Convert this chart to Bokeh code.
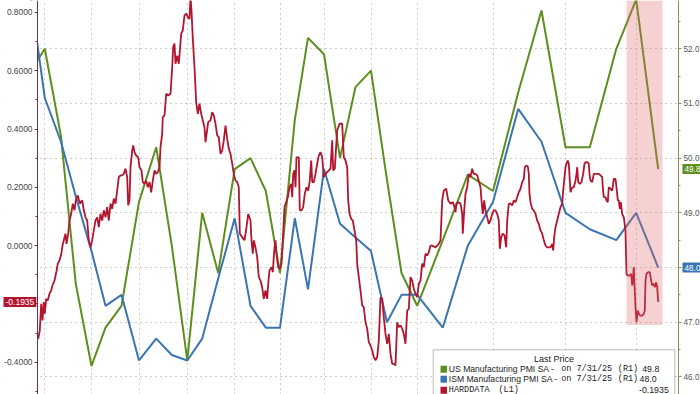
from bokeh.plotting import figure
from bokeh.models import (Range1d, LinearAxis, FixedTicker, PrintfTickFormatter,
                          Label, BoxAnnotation, Grid)
from bokeh.embed import file_html
from bokeh.resources import INLINE

# ---------------- data ----------------
months = ["Aug 22", "Sep 22", "Oct 22", "Nov 22", "Dec 22",
          "Jan 23", "Feb 23", "Mar 23", "Apr 23", "May 23", "Jun 23",
          "Jul 23", "Aug 23", "Sep 23", "Oct 23", "Nov 23", "Dec 23",
          "Jan 24", "Feb 24", "Mar 24", "Apr 24", "May 24", "Jun 24",
          "Jul 24", "Aug 24", "Sep 24", "Oct 24", "Nov 24", "Dec 24",
          "Jan 25", "Feb 25", "Mar 25", "Apr 25", "May 25", "Jun 25", "Jul 25"]
# position of each month-end on the chart's (session based) time axis
month_pos = [-10.0, 7.3, 23.5, 38.3, 54.0,
             68.0, 84.0, 101.5, 118.7, 134.3, 149.8,
             164.7, 180.7, 197.2, 213.0, 228.3, 242.5,
             257.3, 270.5, 286.5, 302.5, 318.0, 333.5,
             349.5, 364.0, 379.7, 405.3, 430.3, 455.5,
             480.7, 504.0, 528.0, 552.3, 578.8, 598.7, 620.7]

us_pmi = [51.5, 52.0, 50.4, 47.7, 46.2,
          46.9, 47.3, 49.2, 50.2, 48.4, 46.3,
          49.0, 47.9, 49.8, 50.0, 49.4, 47.9,
          50.7, 52.2, 51.9, 50.0, 51.3, 51.6,
          49.6, 47.9, 47.3, 48.5, 49.7, 49.4,
          51.2, 52.7, 50.2, 50.2, 52.0, 52.9, 49.8]

ism_pmi = [53.4, 51.1, 50.3, 49.3, 48.3,
           47.3, 47.5, 46.3, 46.7, 46.4, 46.3,
           46.7, 47.8, 48.9, 47.3, 46.9, 46.9,
           48.9, 47.6, 49.8, 48.8, 48.55, 48.3,
           47.0, 47.5, 47.5, 46.9, 48.4, 49.2,
           50.9, 50.3, 49.0, 48.7, 48.5, 49.0, 48.0]

# HARDDATA (daily), (time position, value)
hard_points = [
    (0.7, -0.320), (2.3, -0.291), (3.7, -0.200), (5.0, -0.257), (6.3, -0.194), (7.3, -0.234),
    (8.7, -0.183), (10.3, -0.188), (12.0, -0.165), (13.7, -0.154), (15.0, -0.137), (17.0, -0.120),
    (19.0, -0.088), (20.3, -0.062), (22.0, -0.051), (23.7, -0.031), (25.0, 0.000), (26.3, 0.018),
    (28.0, 0.041), (29.0, 0.006), (30.7, 0.041), (32.0, 0.086), (33.7, 0.109), (35.3, 0.144),
    (37.0, 0.121), (38.3, 0.155), (40.3, 0.172), (42.3, 0.144), (44.7, 0.155), (46.3, 0.121),
    (48.0, 0.097), (49.7, 0.086), (51.3, 0.018), (53.0, -0.006), (54.7, 0.018), (56.3, 0.052),
    (58.0, 0.086), (59.7, 0.097), (61.3, 0.063), (63.0, 0.109), (64.7, 0.086), (66.3, 0.121),
    (68.0, 0.097), (69.7, 0.132), (71.3, 0.086), (73.0, 0.144), (74.7, 0.126), (76.3, 0.161),
    (78.0, 0.144), (79.7, 0.189), (81.3, 0.235), (83.0, 0.241),
    (84.7, 0.241), (86.3, 0.246), (88.0, 0.264), (89.7, 0.235), (90.7, 0.138), (92.0, 0.155),
    (93.0, 0.269), (94.7, 0.326), (95.7, 0.344), (97.0, 0.321), (98.7, 0.309), (100.7, 0.303),
    (102.0, 0.269), (104.0, 0.258), (105.3, 0.218), (107.0, 0.212), (108.7, 0.223), (110.3, 0.200),
    (112.0, 0.218), (113.7, 0.183), (115.3, 0.223), (117.0, 0.258), (118.7, 0.246), (120.3, 0.252),
    (122.0, 0.269), (123.0, 0.338), (124.7, 0.384), (125.3, 0.441), (127.0, 0.447), (128.7, 0.521),
    (130.7, 0.515), (133.0, 0.521), (134.7, 0.612), (135.7, 0.681), (137.0, 0.693), (138.0, 0.624),
    (139.7, 0.652), (141.3, 0.624), (143.7, 0.727), (145.3, 0.738), (147.0, 0.790), (148.7, 0.796),
    (150.3, 0.784), (152.0, 0.778), (153.0, 0.852), (154.0, 0.807), (155.3, 0.710), (157.0, 0.612),
    (158.7, 0.492), (160.3, 0.452), (162.0, 0.487), (163.7, 0.452), (165.3, 0.429), (167.0, 0.406),
    (168.0, 0.355), (170.7, 0.424), (173.0, 0.429), (174.7, 0.458), (176.3, 0.447), (178.0, 0.418),
    (179.7, 0.378), (181.3, 0.372), (183.0, 0.315), (184.7, 0.326), (186.3, 0.361), (188.0, 0.412),
    (189.7, 0.367), (191.3, 0.332), (193.0, 0.315), (194.7, 0.281), (196.3, 0.246), (198.0, 0.223),
    (199.7, 0.218), (201.3, 0.200), (202.3, 0.041), (204.7, 0.029), (207.0, 0.018), (209.0, 0.063),
    (210.7, 0.109), (213.0, 0.086), (214.0, 0.018), (215.3, -0.028), (216.3, 0.018), (218.0, -0.006),
    (219.7, -0.040), (221.3, -0.108), (223.0, -0.120), (224.7, -0.143), (226.3, -0.183), (228.0, -0.154),
    (229.7, -0.183), (230.7, -0.131), (232.0, -0.085), (234.0, -0.074), (235.3, -0.091), (236.7, -0.017),
    (238.0, 0.018), (239.0, -0.028), (240.7, -0.074), (242.3, -0.080), (244.0, -0.062), (245.3, 0.018),
    (247.0, 0.132), (248.7, 0.149), (250.3, 0.166), (252.0, 0.200), (253.7, 0.212), (254.7, 0.166),
    (255.7, 0.246), (257.0, 0.258), (258.0, 0.200), (259.0, 0.303), (261.3, 0.303), (262.3, 0.121),
    (264.0, 0.121), (265.7, 0.132), (267.3, 0.178), (269.0, 0.200), (270.7, 0.189), (272.3, 0.223),
    (273.7, 0.292), (274.7, 0.218), (276.3, 0.218), (278.0, 0.246), (279.7, 0.281), (281.3, 0.309),
    (283.0, 0.321), (284.7, 0.303), (286.3, 0.235), (288.0, 0.246), (289.7, 0.252), (291.3, 0.258),
    (293.0, 0.264), (294.7, 0.361), (295.7, 0.258), (297.3, 0.264), (298.7, 0.344), (299.7, 0.395),
    (302.0, 0.418), (304.7, 0.418), (306.3, 0.303), (308.0, 0.292), (309.7, 0.269), (310.7, 0.155),
    (312.0, 0.109), (313.7, 0.092), (315.3, 0.086), (317.0, 0.052), (318.7, 0.018),
    (319.7, -0.062), (321.3, -0.108), (323.0, -0.154), (324.7, -0.206), (326.3, -0.211), (328.0, -0.263),
    (329.7, -0.285), (331.3, -0.331), (333.0, -0.343), (334.7, -0.360), (336.3, -0.383), (338.0, -0.394),
    (339.7, -0.383), (341.3, -0.326), (343.0, -0.177), (344.7, -0.183), (346.3, -0.246), (348.0, -0.303),
    (349.7, -0.337), (351.3, -0.303), (353.0, -0.371), (354.7, -0.406), (356.3, -0.406), (358.0, -0.411),
    (359.7, -0.263), (361.3, -0.280), (363.0, -0.274), (364.7, -0.285), (366.3, -0.303), (368.0, -0.337),
    (369.7, -0.223), (371.3, -0.217), (373.0, -0.108), (374.7, -0.120), (376.3, -0.148), (378.0, -0.165),
    (379.7, -0.177), (381.3, -0.131), (383.0, -0.120), (384.7, -0.062), (386.3, -0.074), (388.0, -0.028),
    (389.7, -0.034), (391.3, -0.023), (393.0, 0.000), (394.7, 0.000), (398.0, -0.006), (401.3, 0.006),
    (403.0, 0.018), (404.7, 0.155), (406.3, 0.189), (408.7, 0.195), (410.7, 0.155), (413.0, 0.144),
    (415.3, 0.149), (417.0, 0.132), (418.0, 0.115), (419.0, 0.144), (420.7, 0.149), (423.0, 0.144),
    (424.7, 0.109), (425.3, 0.041), (426.7, 0.121), (428.0, 0.178), (429.7, 0.200), (431.3, 0.246),
    (433.0, 0.235), (434.7, 0.264), (436.3, 0.246), (438.0, 0.246), (439.7, 0.241), (443.0, 0.200),
    (444.0, 0.155), (445.3, 0.109), (446.7, 0.155), (448.0, 0.121), (449.7, 0.097), (451.3, 0.075),
    (453.0, 0.086), (454.7, 0.109), (456.3, 0.121), (458.0, 0.121), (459.7, 0.109), (461.3, 0.086),
    (462.3, -0.011), (463.7, 0.029), (465.3, 0.041), (467.0, 0.035), (468.7, -0.006), (469.7, 0.086),
    (471.3, 0.144), (473.0, 0.144), (474.7, 0.138), (476.3, 0.155), (478.0, 0.149),
    (479.7, 0.166), (481.3, 0.183), (483.0, 0.195), (484.7, 0.218), (486.3, 0.229), (487.3, 0.269),
    (488.7, 0.275), (490.3, 0.272), (491.3, 0.246), (492.0, 0.178), (493.0, 0.149), (494.7, 0.126),
    (496.3, 0.121), (498.0, 0.109), (499.7, 0.086), (501.3, 0.075), (503.0, 0.052), (504.7, 0.041),
    (506.3, 0.018), (508.0, 0.000), (509.7, -0.006), (513.0, -0.006), (514.7, 0.006), (515.7, -0.017),
    (516.7, 0.029), (518.0, 0.063), (519.7, 0.086), (521.3, 0.109), (523.0, 0.132), (524.7, 0.144),
    (525.7, 0.189), (527.0, 0.235), (528.0, 0.269), (529.0, 0.281), (530.3, 0.292), (531.3, 0.281),
    (532.3, 0.223), (533.0, 0.183), (534.7, 0.200), (536.3, 0.200), (538.0, 0.223), (539.0, 0.246),
    (539.7, 0.269), (540.7, 0.218), (542.3, 0.212), (544.0, 0.218), (545.7, 0.246), (547.0, 0.281),
    (548.0, 0.286), (549.7, 0.286), (551.3, 0.281), (552.0, 0.246), (553.0, 0.223), (554.7, 0.218),
    (556.3, 0.246), (559.7, 0.246), (561.3, 0.246), (563.0, 0.241), (564.7, 0.235), (565.3, 0.200),
    (566.3, 0.166), (568.0, 0.166), (569.0, 0.155), (570.3, 0.149), (571.3, 0.200), (573.0, 0.195),
    (574.7, 0.189), (576.3, 0.229), (578.0, 0.229), (579.0, 0.200), (580.3, 0.155), (581.3, 0.155),
    (582.3, 0.126), (583.3, 0.149), (584.7, 0.109), (586.3, 0.097), (588.0, 0.052), (589.0, -0.097),
    (590.3, -0.103), (592.0, -0.103), (593.7, -0.097), (594.7, -0.137), (595.3, -0.126), (596.3, -0.074),
    (597.0, -0.131), (598.0, -0.211), (599.0, -0.263), (600.3, -0.223), (601.3, -0.234), (603.0, -0.240),
    (604.7, -0.240), (606.3, -0.234), (607.3, -0.223), (608.0, -0.120), (609.0, -0.097), (610.7, -0.091),
    (612.3, -0.091), (613.7, -0.120), (614.7, -0.137), (616.3, -0.131), (617.3, -0.143), (618.7, -0.126),
    (619.7, -0.143), (620.7, -0.1935),
]
hard_x = [pt[0] for pt in hard_points]
hard_y = [pt[1] for pt in hard_points]

last_date = "7/31/25"
left_ticks = [-0.4, -0.2, 0.0, 0.2, 0.4, 0.6, 0.8]
left_minor = [-0.5, -0.3, -0.1, 0.1, 0.3, 0.5, 0.7]
right_ticks = [46, 47, 48, 49, 50, 51, 52]
right_minor = [46.5, 47.5, 48.5, 49.5, 50.5, 51.5, 52.5]
quarter_pos = month_pos[1::3]          # quarter-end gridlines
time_span = (0.0, 641.0)                # visible part of the time axis
shade_span = (589.0, 625.0, 46.95)      # highlighted recent period

GREEN = "#5d8e1f"
BLUE = "#3a75b2"
RED = "#b3152f"
SANS = "Liberation Sans"
MONO = "Liberation Mono"

# ---------------- figure ----------------
# the frame spans the whole canvas; the two value axes sit at the ends of the
# visible time span (fixed_location) so the last-value tags can overlap them
p = figure(width=700, height=394, output_backend="svg", toolbar_location=None,
           x_range=Range1d(time_span[0] - 37, time_span[1] + 22),
           y_range=Range1d(45.678, 52.883),
           x_axis_location=None, y_axis_location="right",
           min_border_left=0, min_border_right=0, min_border_top=0, min_border_bottom=0)
p.extra_y_ranges = {"hd": Range1d(-0.511, 0.841)}
p.outline_line_color = None
p.background_fill_color = "white"
p.border_fill_color = "white"
p.grid.visible = False

GRID = dict(grid_line_color="#9a9a9a", grid_line_dash="1 4", grid_line_width=1)
p.add_layout(Grid(dimension=0, ticker=FixedTicker(ticks=quarter_pos), **GRID))
p.add_layout(Grid(dimension=1, ticker=FixedTicker(ticks=right_ticks), **GRID))

ry = p.yaxis[0]
ry.fixed_location = time_span[1]
ry.level = "annotation"
ry.ticker = FixedTicker(ticks=right_ticks, minor_ticks=right_minor)
ry.formatter = PrintfTickFormatter(format="%.1f")
ry.axis_line_color = "#8a8f5c"
ry.major_tick_line_color = "#8a8f5c"
ry.minor_tick_line_color = "#8a8f5c"
ry.major_tick_out = 3
ry.major_tick_in = 0
ry.minor_tick_out = 2
ry.minor_tick_in = 0
ry.major_label_standoff = 2
ry.major_label_text_font = SANS
ry.major_label_text_font_size = "8.2px"
ry.major_label_text_color = "#555555"

la = LinearAxis(y_range_name="hd", fixed_location=time_span[0],
                ticker=FixedTicker(ticks=left_ticks, minor_ticks=left_minor),
                formatter=PrintfTickFormatter(format="%.4f"))
la.level = "annotation"
la.axis_line_color = "#7d2a4c"
la.major_tick_line_color = "#7d2a4c"
la.minor_tick_line_color = "#7d2a4c"
la.major_tick_out = 3
la.major_tick_in = 0
la.minor_tick_out = 2
la.minor_tick_in = 0
la.major_label_standoff = 2
la.major_label_text_font = SANS
la.major_label_text_font_size = "8.4px"
la.major_label_text_color = "#444444"
p.add_layout(la, "left")

# ---------------- series ----------------
p.line(month_pos, us_pmi, line_color=GREEN, line_width=2)
p.line(month_pos, ism_pmi, line_color=BLUE, line_width=2)
p.line(hard_x, hard_y, line_color=RED, line_width=1.8, y_range_name="hd")

# white margins outside the visible time span (behind the axes)
p.add_layout(BoxAnnotation(right=time_span[0], fill_color="white", fill_alpha=1.0,
                           line_color=None, level="guide"))
p.add_layout(BoxAnnotation(left=time_span[1], fill_color="white", fill_alpha=1.0,
                           line_color=None, level="guide"))

# highlighted period (semi-transparent overlay)
p.add_layout(BoxAnnotation(left=shade_span[0], right=shade_span[1], bottom=shade_span[2],
                           fill_color="#e06666", fill_alpha=0.3, line_color=None))

# ---------------- last value tags ----------------
tag_kw = dict(text_font=SANS, text_color="white", text_align="left",
              text_baseline="middle", padding=2, level="overlay")
p.add_layout(Label(x=time_span[0] - 34, y=hard_y[-1], y_range_name="hd",
                   text=f"{hard_y[-1]:.4f}", text_font_size="8.5px",
                   background_fill_color=RED, **tag_kw))
p.add_layout(Label(x=time_span[1] + 4, y=us_pmi[-1], text=f"{us_pmi[-1]:.1f}",
                   text_font_size="8.2px", background_fill_color=GREEN, **tag_kw))
p.add_layout(Label(x=time_span[1] + 4, y=ism_pmi[-1], text=f"{ism_pmi[-1]:.1f}",
                   text_font_size="8.2px", background_fill_color=BLUE, **tag_kw))

# ---------------- legend ----------------
p.add_layout(BoxAnnotation(left=395.7, right=637.3, top=46.495, bottom=45.0,
                           fill_color="white", fill_alpha=1.0,
                           line_color="#222222", line_width=1))
p.add_layout(Label(x=516.5, y=46.323, text="Last Price", text_font=SANS,
                   text_font_size="9px", text_color="#222222",
                   text_align="center", text_baseline="middle"))

rows = [
    (GREEN, "US Manufacturing PMI SA -", "(R1)", f"{us_pmi[-1]:.1f}", 604.7, 46.140),
    (BLUE, "ISM Manufacturing PMI SA -", "(R1)", f"{ism_pmi[-1]:.1f}", 602.0, 45.958),
    (RED, "HARDDATA", "(L1)", None, None, 45.756),
]
txt = dict(text_color="#222222", text_baseline="middle")
for color, name, src, val, val_x, row_y in rows:
    p.add_layout(BoxAnnotation(left=403.0, right=409.5, top=row_y + 0.064, bottom=row_y - 0.064,
                               fill_color=color, fill_alpha=1.0, line_color=None))
    if val is not None:
        p.add_layout(Label(x=411.3, y=row_y, text=name, text_font=SANS,
                           text_font_size="8.6px", text_align="left", **txt))
        p.add_layout(Label(x=523.7, y=row_y, text=f"on {last_date}", text_font=MONO,
                           text_font_size="8.5px", text_align="left", **txt))
        p.add_layout(Label(x=580.3, y=row_y, text=src, text_font=MONO,
                           text_font_size="8.5px", text_align="left", **txt))
        p.add_layout(Label(x=val_x, y=row_y, text=val, text_font=SANS,
                           text_font_size="8.8px", text_align="left", **txt))
    else:
        p.add_layout(Label(x=411.3, y=row_y, text=name, text_font=MONO,
                           text_font_size="8.5px", text_align="left", **txt))
        p.add_layout(Label(x=461.0, y=row_y, text=src, text_font=MONO,
                           text_font_size="8.5px", text_align="left", **txt))
        p.add_layout(Label(x=631.3, y=row_y, text=f"{hard_y[-1]:.4f}", text_font=SANS,
                           text_font_size="8.8px", text_align="right", **txt))

open("out.html", "w").write(file_html(p, INLINE))
